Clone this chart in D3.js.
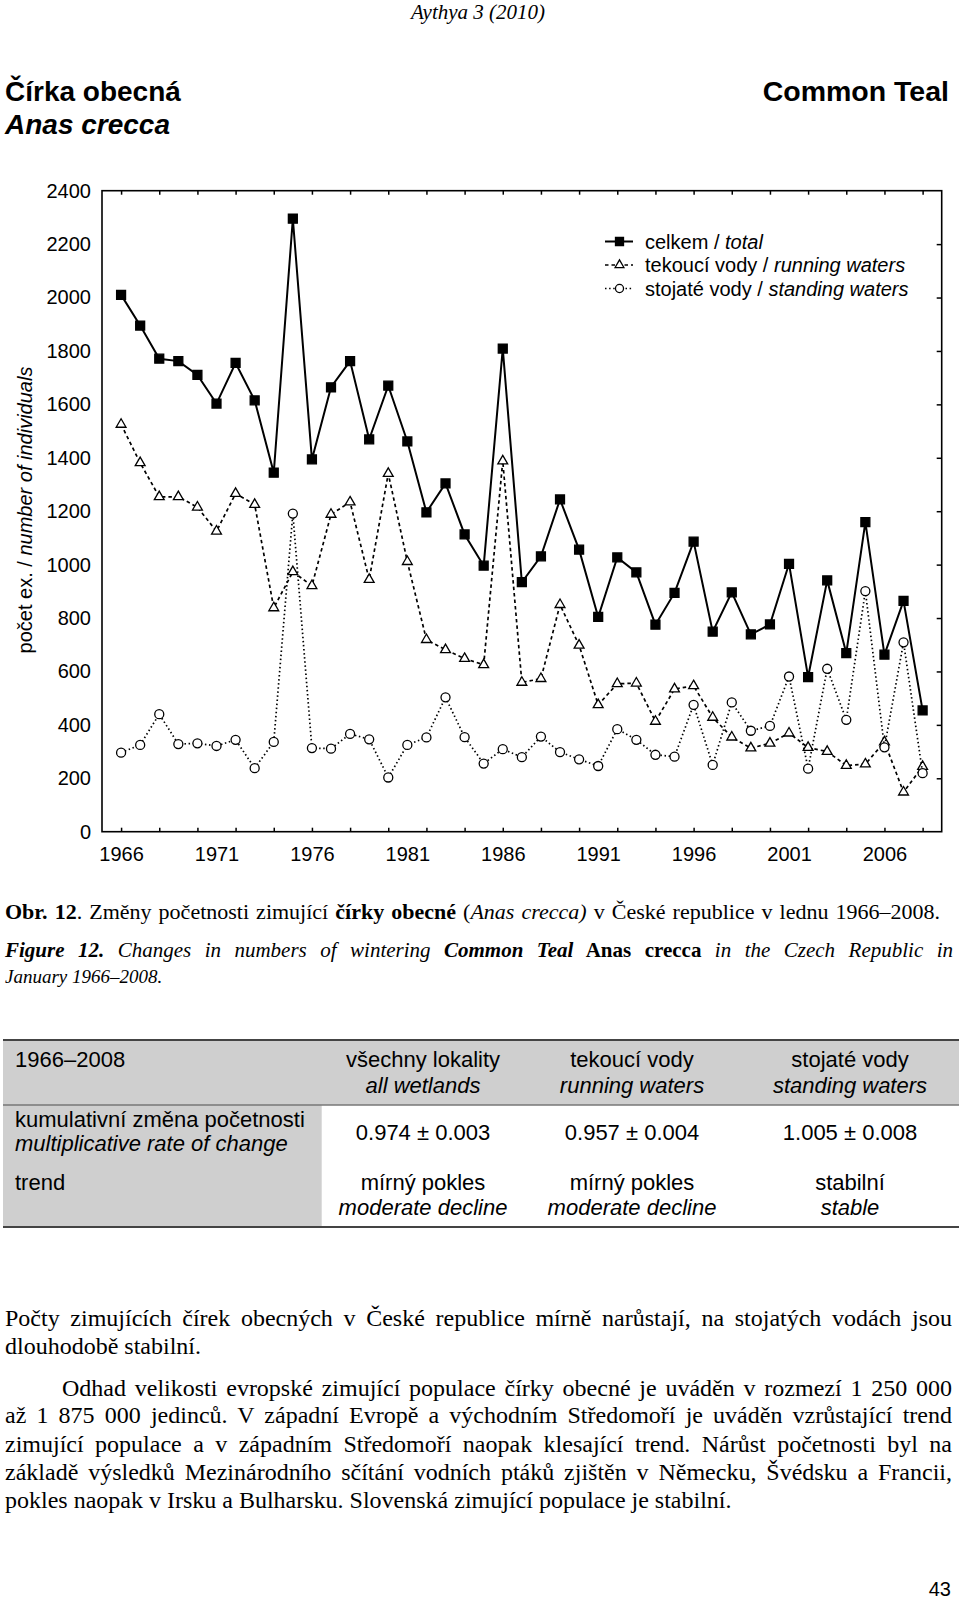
<!DOCTYPE html>
<html><head><meta charset="utf-8">
<script src="https://cdn.jsdelivr.net/npm/d3@7"></script>
<style>
html,body{margin:0;padding:0;background:#fff;}
svg{display:block;}
text{white-space:pre;}
</style></head>
<body>
<svg id="page" width="960" height="1599"></svg>
<script>
// ---------------- DATA ----------------
const years = [1966,1967,1968,1969,1970,1971,1972,1973,1974,1975,
               1976,1977,1978,1979,1980,1981,1982,1983,1984,1985,
               1986,1987,1988,1989,1990,1991,1992,1993,1994,1995,
               1996,1997,1998,1999,2000,2001,2002,2003,2004,2005,
               2006,2007,2008];
const total = [2010,1895,1771,1762,1710,1603,1755,1615,1344,2295,
               1394,1664,1762,1469,1670,1461,1196,1304,1113,996,
               1809,934,1031,1244,1056,804,1027,971,775,894,
               1086,749,896,739,776,1003,579,941,669,1159,
               663,864,454];
const running = [1525,1381,1254,1254,1215,1125,1266,1225,838,973,
                 921,1188,1234,944,1341,1011,719,681,648,625,
                 1388,559,573,850,698,475,554,556,413,534,
                 546,428,354,313,331,369,315,300,248,253,
                 336,148,244];
const standing = [296,325,440,328,331,321,344,238,336,1191,
                  313,311,366,346,203,325,353,503,354,255,
                  309,279,356,298,271,246,384,344,288,281,
                  475,250,484,378,396,581,236,610,419,901,
                  316,709,219];
const yTickValues = [0,200,400,600,800,1000,1200,1400,1600,1800,2000,2200,2400];
const rightTickValues = [200,400,600,800,1000,1200,1400,1600,1800,2000,2200];
const xLabelYears = [1966,1971,1976,1981,1986,1991,1996,2001,2006];
const xTickYears = [1966,1968,1970,1972,1974,1976,1978,1980,1982,1984,1986,1988,1990,
                    1992,1994,1996,1998,2000,2002,2004,2006,2008];
const seriesLabelsCz = ["celkem / ", "tekoucí vody / ", "stojaté vody / "];
const seriesLabelsEn = ["total", "running waters", "standing waters"];
const tableHeaderCz = ["všechny lokality", "tekoucí vody", "stojaté vody"];
const tableHeaderEn = ["all wetlands", "running waters", "standing waters"];
const tableRates = ["0.974 ± 0.003", "0.957 ± 0.004", "1.005 ± 0.008"];
const tableTrendCz = ["mírný pokles", "mírný pokles", "stabilní"];
const tableTrendEn = ["moderate decline", "moderate decline", "stable"];

// ---------------- HELPERS ----------------
const SANS = "'Liberation Sans', Arial, Helvetica, sans-serif";
const SERIF = "'Liberation Serif', 'Times New Roman', serif";
const svg = d3.select("#page");
svg.append("rect").attr("width",960).attr("height",1599).attr("fill","#fff");

function addText(parent, o) {
  const t = parent.append("text")
    .attr("x", o.x).attr("y", o.y)
    .attr("text-anchor", o.anchor || "start")
    .style("font-family", o.family || SANS)
    .style("font-size", o.size + "px")
    .attr("fill", "#000");
  if (o.transform) t.attr("transform", o.transform);
  const parts = typeof o.parts === "string" ? [{t:o.parts}] : o.parts;
  parts.forEach(p => {
    t.append("tspan").text(p.t)
      .style("font-weight", p.b ? "bold" : null)
      .style("font-style", p.i ? "italic" : null);
  });
  if (o.justify) {
    const nat = t.node().getComputedTextLength();
    const spaces = (t.text().match(/ /g) || []).length;
    if (spaces > 0) t.style("word-spacing", ((o.justify - nat) / spaces) + "px");
  }
  if (o.width) t.attr("textLength", o.width).attr("lengthAdjust", "spacingAndGlyphs");
  return t;
}

// ---------------- PAGE HEADER ----------------
addText(svg, {x:478, y:19, anchor:"middle", family:SERIF, size:21, parts:[{t:"Aythya 3 (2010)", i:true}]});
addText(svg, {x:5, y:101, size:28, parts:[{t:"Čírka obecná", b:true}]});
addText(svg, {x:5, y:134, size:28, parts:[{t:"Anas crecca", b:true, i:true}]});
addText(svg, {x:949, y:101, anchor:"end", size:28.5, parts:[{t:"Common Teal", b:true}]});

// ---------------- CHART ----------------
const x = d3.scaleLinear().domain([1965, 2009]).range([102, 941.7]);
const y = d3.scaleLinear().domain([0, 2400]).range([831.7, 190.7]);
const chart = svg.append("g");

function styleAxis(g) {
  g.select(".domain").remove();
  g.selectAll(".tick line").attr("stroke", "#000").attr("stroke-width", 1.5);
  g.selectAll("text").style("font-family", SANS).style("font-size", "20px").attr("fill", "#000");
}

chart.append("g").attr("transform", `translate(${x.range()[0]},0)`)
  .call(d3.axisLeft(y).tickValues(yTickValues).tickSize(0).tickPadding(11).tickFormat(d3.format("d")))
  .call(styleAxis);
chart.append("g").attr("transform", `translate(0,${y.range()[0]})`)
  .call(d3.axisBottom(x).tickValues(xLabelYears).tickSize(0).tickPadding(15).tickFormat(d3.format("d")))
  .call(styleAxis);
chart.append("g").attr("transform", `translate(0,${y.range()[0]})`)
  .call(d3.axisBottom(x).tickValues(xTickYears).tickSize(-4).tickFormat(""))
  .call(styleAxis);
chart.append("g").attr("transform", `translate(0,${y.range()[1]})`)
  .call(d3.axisTop(x).tickValues(xTickYears).tickSize(-4).tickFormat(""))
  .call(styleAxis);
chart.append("g").attr("transform", `translate(${x.range()[1]},0)`)
  .call(d3.axisRight(y).tickValues(rightTickValues).tickSize(-5).tickFormat(""))
  .call(styleAxis);

chart.append("rect")
  .attr("x", x.range()[0]).attr("y", y.range()[1])
  .attr("width", x.range()[1] - x.range()[0])
  .attr("height", y.range()[0] - y.range()[1])
  .attr("fill", "none").attr("stroke", "#000").attr("stroke-width", 1.6);

// y axis title
addText(chart, {x:0, y:0, anchor:"middle", size:20, transform:"translate(32,510) rotate(-90)",
  parts:[{t:"počet ex. / "}, {t:"number of individuals", i:true}]});

const series = [
  {values: total, dash: null, width: 2, symbol: d3.symbolSquare, size: 80, fill: "#000"},
  {values: running, dash: "3.5,3", width: 1.7, symbol: d3.symbolTriangle, size: 42, fill: "#fff"},
  {values: standing, dash: "1.5,2.6", width: 1.7, symbol: d3.symbolCircle, size: 64, fill: "#fff"}
];

const line = d3.line().x(d => x(d[0])).y(d => y(d[1]));
series.forEach(s => {
  const pts = years.map((yr, i) => [yr, s.values[i]]);
  chart.append("path").datum(pts).attr("d", line)
    .attr("fill", "none").attr("stroke", "#000")
    .attr("stroke-width", s.width)
    .attr("stroke-dasharray", s.dash);
  chart.append("g").selectAll("path").data(pts).join("path")
    .attr("transform", d => `translate(${x(d[0])},${y(d[1])})`)
    .attr("d", d3.symbol().type(s.symbol).size(s.size))
    .attr("fill", s.fill).attr("stroke", "#000").attr("stroke-width", 1.3);
});

// legend
const legend = chart.append("g");
const legendRowY = [241.5, 265, 288.5];
series.forEach((s, i) => {
  const cy = legendRowY[i];
  legend.append("line").attr("x1", 605).attr("x2", 633).attr("y1", cy).attr("y2", cy)
    .attr("stroke", "#000").attr("stroke-width", s.width).attr("stroke-dasharray", s.dash);
  legend.append("path").attr("transform", `translate(619.5,${cy})`)
    .attr("d", d3.symbol().type(s.symbol).size(s.size * 0.8))
    .attr("fill", s.fill).attr("stroke", "#000").attr("stroke-width", 1.3);
  addText(legend, {x:645, y:cy + 7, size:20, parts:[{t:seriesLabelsCz[i]}, {t:seriesLabelsEn[i], i:true}]});
});

// ---------------- CAPTION ----------------
addText(svg, {x:5, y:919, family:SERIF, size:22, justify:935, parts:[
  {t:"Obr. 12", b:true}, {t:". Změny početnosti zimující "}, {t:"čírky obecné", b:true},
  {t:" ("}, {t:"Anas crecca)", i:true}, {t:" v České republice v lednu 1966–2008."}]});
addText(svg, {x:5, y:957, family:SERIF, size:21, justify:948, parts:[
  {t:"Figure 12.", b:true, i:true}, {t:" Changes in numbers of wintering ", i:true},
  {t:"Common Teal", b:true, i:true}, {t:" Anas crecca", b:true}, {t:" in the Czech Republic in", i:true}]});
addText(svg, {x:5, y:983, family:SERIF, size:19, parts:[{t:"January 1966–2008.", i:true}]});

// ---------------- TABLE ----------------
const tbl = svg.append("g");
const colX = [423, 632, 850];
tbl.append("rect").attr("x", 3).attr("y", 1040).attr("width", 956).attr("height", 65).attr("fill", "#cfcfcf");
tbl.append("rect").attr("x", 3).attr("y", 1105).attr("width", 318.7).attr("height", 122).attr("fill", "#cfcfcf");
tbl.append("line").attr("x1", 3).attr("x2", 959).attr("y1", 1040).attr("y2", 1040).attr("stroke", "#444").attr("stroke-width", 2);
tbl.append("line").attr("x1", 3).attr("x2", 959).attr("y1", 1105).attr("y2", 1105).attr("stroke", "#777").attr("stroke-width", 1.3);
tbl.append("line").attr("x1", 3).attr("x2", 959).attr("y1", 1227).attr("y2", 1227).attr("stroke", "#444").attr("stroke-width", 2);

addText(tbl, {x:15, y:1067, size:22, parts:"1966–2008"});
addText(tbl, {x:15, y:1127, size:22, parts:"kumulativní změna početnosti"});
addText(tbl, {x:15, y:1151, size:22, parts:[{t:"multiplicative rate of change", i:true}]});
addText(tbl, {x:15, y:1190, size:22, parts:"trend"});
colX.forEach((cx, i) => {
  addText(tbl, {x:cx, y:1067, anchor:"middle", size:22, parts:tableHeaderCz[i]});
  addText(tbl, {x:cx, y:1093, anchor:"middle", size:22, parts:[{t:tableHeaderEn[i], i:true}]});
  addText(tbl, {x:cx, y:1139.5, anchor:"middle", size:22, parts:tableRates[i]});
  addText(tbl, {x:cx, y:1190, anchor:"middle", size:22, parts:tableTrendCz[i]});
  addText(tbl, {x:cx, y:1215, anchor:"middle", size:22, parts:[{t:tableTrendEn[i], i:true}]});
});

// ---------------- BODY TEXT ----------------
const body = svg.append("g");
addText(body, {x:5, y:1326, family:SERIF, size:24, justify:947,
  parts:"Počty zimujících čírek obecných v České republice mírně narůstají, na stojatých vodách jsou"});
addText(body, {x:5, y:1354, family:SERIF, size:24, parts:"dlouhodobě stabilní."});
addText(body, {x:62, y:1396, family:SERIF, size:24, justify:890,
  parts:"Odhad velikosti evropské zimující populace čírky obecné je uváděn v rozmezí 1 250 000"});
addText(body, {x:5, y:1423, family:SERIF, size:24, justify:947,
  parts:"až 1 875 000 jedinců. V západní Evropě a východním Středomoří je uváděn vzrůstající trend"});
addText(body, {x:5, y:1452, family:SERIF, size:24, justify:947,
  parts:"zimující populace a v západním Středomoří naopak klesající trend. Nárůst početnosti byl na"});
addText(body, {x:5, y:1480, family:SERIF, size:24, justify:947,
  parts:"základě výsledků Mezinárodního sčítání vodních ptáků zjištěn v Německu, Švédsku a Francii,"});
addText(body, {x:5, y:1508, family:SERIF, size:24,
  parts:"pokles naopak v Irsku a Bulharsku. Slovenská zimující populace je stabilní."});

addText(svg, {x:951, y:1596, anchor:"end", size:20, parts:"43"});
</script>
</body></html>
